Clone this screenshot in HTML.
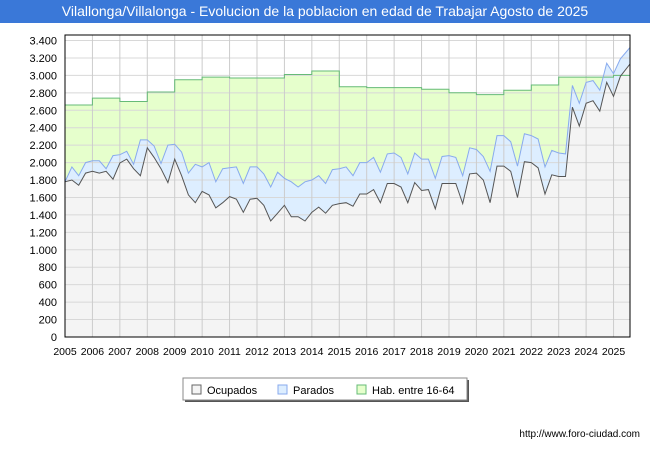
<!DOCTYPE html>
<html><head><meta charset="utf-8">
<style>
body{margin:0;width:650px;height:450px;background:#fff;font-family:"Liberation Sans",sans-serif;overflow:hidden}
#title{position:absolute;left:0;top:0;width:650px;height:23px;background:#3a78d8;color:#fff;font-size:14px;line-height:23px;text-align:center}
svg{position:absolute;left:0;top:0}
</style></head><body>
<div id="title">Vilallonga/Villalonga - Evolucion de la poblacion en edad de Trabajar Agosto de 2025</div>
<svg id="chart" width="650" height="450"></svg>
<script>
const years=[2005,2006,2007,2008,2009,2010,2011,2012,2013,2014,2015,2016,2017,2018,2019,2020,2021,2022,2023,2024,2025];
const habValues=[2660,2740,2700,2810,2950,2980,2970,2970,3010,3050,2870,2860,2860,2840,2800,2780,2830,2890,2980,2980,3000];
const ocupados=[1780,1800,1740,1880, 1900,1880,1900,1810, 1995,2040,1930,1850, 2170,2060,1930,1770, 2040,1850,1630,1540, 1670,1630,1480,1540, 1610,1580,1430,1580, 1590,1510,1330,1420, 1510,1380,1380,1330, 1430,1490,1420,1510, 1530,1540,1500,1640, 1640,1690,1540,1760, 1760,1720,1540,1770, 1680,1690,1470,1760, 1760,1760,1530,1870, 1880,1800,1540,1960, 1960,1900,1600,2010, 2000,1940,1640,1860, 1840,1840,2635,2420, 2680,2710,2590,2920, 2760,2990,3130];
const totals=[1780,1950,1850,2000, 2020,2020,1930,2080, 2090,2130,1980,2260, 2260,2190,1990,2200, 2210,2120,1880,1980, 1950,2000,1780,1930, 1940,1950,1760,1950, 1950,1870,1720,1890, 1820,1780,1720,1780, 1800,1850,1760,1920, 1930,1950,1850,2000, 2000,2060,1890,2100, 2110,2060,1870,2110, 2040,2040,1820,2070, 2080,2060,1850,2170, 2150,2070,1900,2310, 2310,2240,1960,2330, 2310,2270,1950,2140, 2110,2100,2885,2680, 2920,2940,2830,3140, 3020,3190,3320];
const yTicks=[0,200,400,600,800,1000,1200,1400,1600,1800,2000,2200,2400,2600,2800,3000,3200,3400];
const xEnd=2025.6;
const L=65,R=630,T=35,B=337;
const X=t=>L+(t-2005)*(R-L)/(xEnd-2005);
const Y=v=>B-v*(B-40.5)/3400;
const NS='http://www.w3.org/2000/svg';
const svg=document.getElementById('chart');
function mk(tag,attrs,parent){const e=document.createElementNS(NS,tag);for(const k in attrs)e.setAttribute(k,attrs[k]);(parent||svg).appendChild(e);return e;}
const fmt=v=>v>=1000?Math.floor(v/1000)+'.'+String(v%1000).padStart(3,'0'):String(v);
let bg=mk('rect',{x:L,y:T,width:R-L,height:B-T,fill:'#fff'});


let hp=[];
years.forEach((yr,i)=>{const x0=X(yr),x1=X(i<years.length-1?years[i+1]:xEnd);hp.push([x0,Y(habValues[i])],[x1,Y(habValues[i])]);});
const pts=a=>a.map(p=>p[0].toFixed(1)+','+p[1].toFixed(1)).join(' ');
let habArea=mk('polygon',{points:pts([[X(2005),B],...hp,[X(xEnd),B]]),fill:'#e6ffcc'});


const tx=(i,n)=>i===n-1?xEnd:2005+i*0.25;
let tp=totals.map((v,i)=>[X(tx(i,totals.length)),Y(v)]);
let op=ocupados.map((v,i)=>[X(tx(i,ocupados.length)),Y(v)]);
let totArea=mk('polygon',{points:pts([[X(2005),B],...tp,[X(xEnd),B]]),fill:'#ddeeff'});


let ocArea=mk('polygon',{points:pts([[X(2005),B],...op,[X(xEnd),B]]),fill:'#f4f4f4'});


yTicks.forEach(v=>{let g=mk('line',{x1:L,x2:R,y1:Y(v),y2:Y(v),stroke:'#d8d8d8','stroke-width':1});


let t=mk('text',{x:L-8,y:Y(v)+4,'text-anchor':'end','font-size':11,fill:'#000'});t.textContent=fmt(v);

});
years.forEach(yr=>{let g=mk('line',{x1:X(yr),x2:X(yr),y1:T,y2:B,stroke:'#cccccc','stroke-width':1});


let t=mk('text',{x:X(yr),y:355,'text-anchor':'middle','font-size':10.5,fill:'#000'});t.textContent=yr;

});
let hl=mk('polyline',{points:pts(hp),fill:'none',stroke:'#66bb77','stroke-width':1});


let tl=mk('polyline',{points:pts(tp),fill:'none',stroke:'#88aaee','stroke-width':1});


let ol=mk('polyline',{points:pts(op),fill:'none',stroke:'#555','stroke-width':1});


let fr=mk('rect',{x:L,y:T,width:R-L,height:B-T,fill:'none',stroke:'#000','stroke-width':1});


let lg=mk('g',{});


mk('rect',{x:185,y:380,width:284,height:22,fill:'#555'},lg);
mk('rect',{x:183,y:378,width:284,height:22,fill:'#fff',stroke:'#888'},lg);
[['Ocupados','#f4f4f4','#666',192],['Parados','#ddeeff','#88aaee',278],['Hab. entre 16-64','#e6ffcc','#66bb77',357]].forEach(e=>{
let g=mk('g',{},lg);


mk('rect',{x:e[3],y:385,width:9,height:9,fill:e[1],stroke:e[2]},g);
let t=mk('text',{x:e[3]+15,y:394,'font-size':11,fill:'#000'},g);t.textContent=e[0];});
let u=mk('text',{x:640,y:437,'text-anchor':'end','font-size':10,fill:'#000'});u.textContent='http://www.foro-ciudad.com';


</script>
</body></html>
